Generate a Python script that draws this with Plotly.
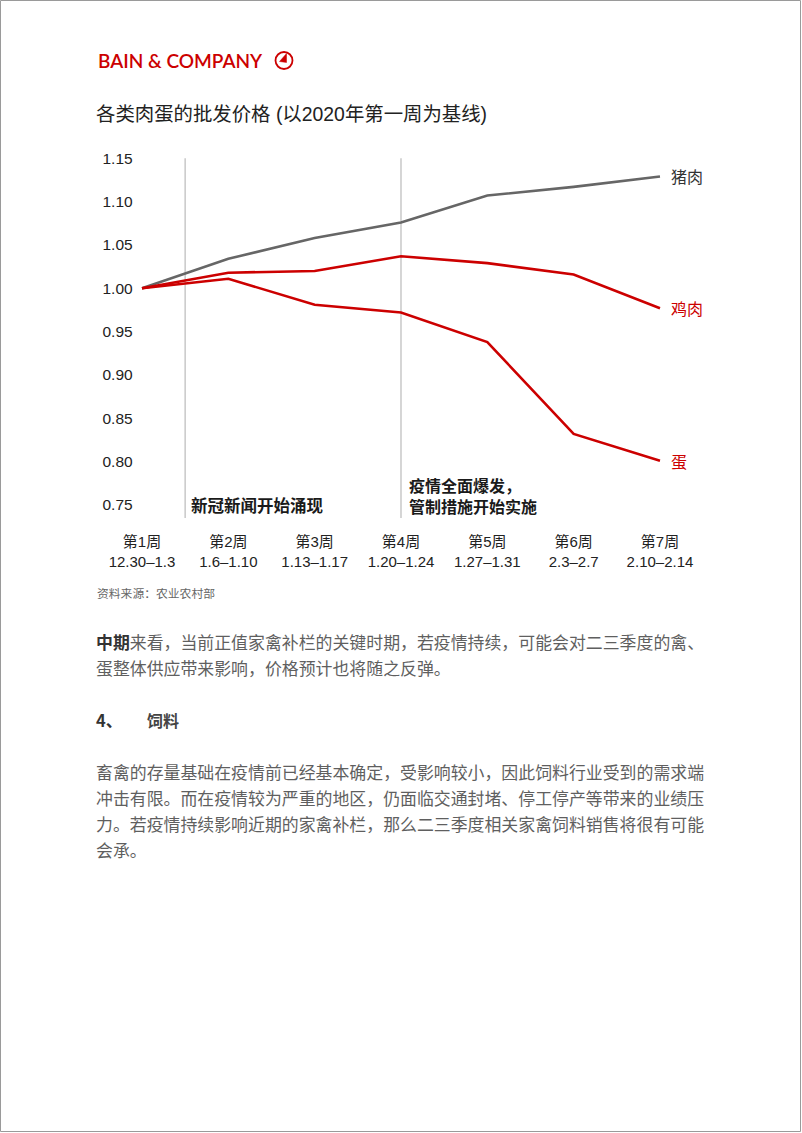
import plotly.graph_objects as go

# ---------------- data ----------------
weeks = ["第1周", "第2周", "第3周", "第4周", "第5周", "第6周", "第7周"]
dates = ["12.30–1.3", "1.6–1.10", "1.13–1.17", "1.20–1.24", "1.27–1.31", "2.3–2.7", "2.10–2.14"]
pork = [1.000, 1.034, 1.058, 1.076, 1.107, 1.117, 1.129]
chicken = [1.000, 1.018, 1.020, 1.037, 1.029, 1.016, 0.977]
egg = [1.000, 1.011, 0.981, 0.972, 0.938, 0.832, 0.801]
series_names = ["猪肉", "鸡肉", "蛋"]
y_ticks = [0.75, 0.80, 0.85, 0.90, 0.95, 1.00, 1.05, 1.10, 1.15]
event_x = [0.5, 3]
event_text = ["新冠新闻开始涌现", "疫情全面爆发，<br>管制措施开始实施"]

title = "各类肉蛋的批发价格 (以2020年第一周为基线)"
source = "资料来源：农业农村部"
para1 = ["<b style='color:#333333'>中期</b>来看，当前正值家禽补栏的关键时期，若疫情持续，可能会对二三季度的禽、",
         "蛋整体供应带来影响，价格预计也将随之反弹。"]
para2 = ["畜禽的存量基础在疫情前已经基本确定，受影响较小，因此饲料行业受到的需求端",
         "冲击有限。而在疫情较为严重的地区，仍面临交通封堵、停工停产等带来的业绩压",
         "力。若疫情持续影响近期的家禽补栏，那么二三季度相关家禽饲料销售将很有可能",
         "会承。"]

# ---------------- layout geometry ----------------
W, H = 802, 1133
X0, DX = 142.0, 86.33          # pixel of week 1, spacing
Y1, K = 288.3, 866.7            # pixel of 1.00, pixels per unit
xr = [-0.05, 6.6]
yr = [0.73, 1.16]
xdom = [(X0 + DX * xr[0]) / W, (X0 + DX * xr[1]) / W]
ytop = Y1 - K * (yr[1] - 1.0)
ybot = Y1 + K * (1.0 - yr[0])
ydom = [1 - ybot / H, 1 - ytop / H]

def px(x):
    return x / W

def py(y):
    return 1 - y / H

RED = "#cc0000"
GREY = "#666666"
LATIN = "Liberation Sans, Arial, Noto Sans CJK SC"
CJK = "Noto Sans CJK SC, Liberation Sans"

xs = list(range(len(weeks)))
fig = go.Figure()
for name, vals, col in [(series_names[0], pork, GREY), (series_names[1], chicken, RED), (series_names[2], egg, RED)]:
    fig.add_trace(go.Scatter(x=xs, y=vals, mode="lines", name=name,
                             line=dict(color=col, width=2.6), showlegend=False,
                             cliponaxis=False))

# vertical event lines
for ex in event_x:
    fig.add_shape(type="line", xref="x", yref="y", x0=ex, x1=ex, y0=0.735, y1=1.15,
                  line=dict(color="#c8c8c8", width=1.5), layer="below")

annotations = []
# event notes
annotations.append(dict(x=event_x[0], y=0.75, xref="x", yref="y", text="<b>" + event_text[0] + "</b>",
                        xanchor="left", yanchor="middle", xshift=4, showarrow=False,
                        font=dict(family=CJK, size=16.5, color="#1a1a1a")))
annotations.append(dict(x=event_x[1], y=0.761, xref="x", yref="y", text="<b>" + event_text[1] + "</b>",
                        xanchor="left", yanchor="middle", xshift=6, showarrow=False, align="left",
                        font=dict(family=CJK, size=16, color="#1a1a1a")))
# series end labels
for name, vals, col in [(series_names[0], pork, "#333333"), (series_names[1], chicken, RED), (series_names[2], egg, RED)]:
    annotations.append(dict(x=xs[-1], y=vals[-1], xref="x", yref="y", text=name,
                            xanchor="left", yanchor="middle", xshift=9, showarrow=False,
                            font=dict(family=CJK, size=16, color=col)))

# logo
annotations.append(dict(x=px(96), y=py(60), xref="paper", yref="paper", text="BAIN &amp; COMPANY",
                        xanchor="left", yanchor="middle", showarrow=False,
                        font=dict(family="Lato, Liberation Sans", size=19, color=RED, weight=600)))
# title
annotations.append(dict(x=px(94), y=py(114), xref="paper", yref="paper", text=title,
                        xanchor="left", yanchor="middle", showarrow=False,
                        font=dict(family=LATIN, size=19.4, color="#222222")))
# source
annotations.append(dict(x=px(95), y=py(592), xref="paper", yref="paper", text=source,
                        xanchor="left", yanchor="middle", showarrow=False,
                        font=dict(family=CJK, size=11.8, color="#666666")))
# paragraphs
for i, line in enumerate(para1):
    annotations.append(dict(x=px(94), y=py(641 + 26 * i), xref="paper", yref="paper", text=line,
                            xanchor="left", yanchor="middle", showarrow=False,
                            font=dict(family=CJK, size=16.9, color="#5f5f5f")))
annotations.append(dict(x=px(94), y=py(720), xref="paper", yref="paper", text="<b>4、</b>",
                        xanchor="left", yanchor="middle", showarrow=False,
                        font=dict(family=CJK, size=16.5, color="#333333")))
annotations.append(dict(x=px(145), y=py(720), xref="paper", yref="paper", text="<b>饲料</b>",
                        xanchor="left", yanchor="middle", showarrow=False,
                        font=dict(family=CJK, size=16, color="#444444")))
for i, line in enumerate(para2):
    annotations.append(dict(x=px(94), y=py(771 + 26 * i), xref="paper", yref="paper", text=line,
                            xanchor="left", yanchor="middle", showarrow=False,
                            font=dict(family=CJK, size=16.9, color="#5f5f5f")))

# logo icon
cx, cy, r = 284.0, 60.5, 8.5
shapes = [
    dict(type="circle", xref="paper", yref="paper", x0=px(cx - r), x1=px(cx + r), y0=py(cy + r), y1=py(cy - r),
         line=dict(color=RED, width=1.8)),
    dict(type="path", xref="paper", yref="paper",
         path="M {} {} L {} {} L {} {} Z".format(px(286.5), py(53.5), px(286.5), py(62.5), px(279.5), py(61.5)),
         fillcolor=RED, line=dict(color=RED, width=0.5)),
    dict(type="rect", xref="paper", yref="paper", x0=px(0.5), x1=px(800.5), y0=py(1131.5), y1=py(0.5),
         line=dict(color="#9a9a9a", width=1)),
]
for s in shapes:
    fig.add_shape(**s)

fig.update_layout(
    template="none",
    width=W, height=H,
    margin=dict(l=0, r=0, t=0, b=0, pad=0, autoexpand=False),
    paper_bgcolor="white", plot_bgcolor="white",
    annotations=annotations,
    xaxis=dict(domain=xdom, range=xr, tickmode="array", tickvals=xs,
               ticktext=[w + "<br>" + d for w, d in zip(weeks, dates)],
               showgrid=False, zeroline=False, showline=False, ticks="", automargin=False,
               ticklabelstandoff=9,
               tickfont=dict(family=LATIN, size=15, color="#222222"), fixedrange=True),
    yaxis=dict(domain=ydom, range=yr, tickmode="array", tickvals=y_ticks,
               ticktext=["{:.2f}".format(v) for v in y_ticks],
               showgrid=False, zeroline=False, showline=False, ticks="", automargin=False,
               ticklabelstandoff=4,
               tickfont=dict(family=LATIN, size=15.5, color="#222222"), fixedrange=True),
)

fig.write_html("out.html", config={"displayModeBar": False},
               post_script="document.body.style.margin='0';document.body.style.overflow='hidden';")
